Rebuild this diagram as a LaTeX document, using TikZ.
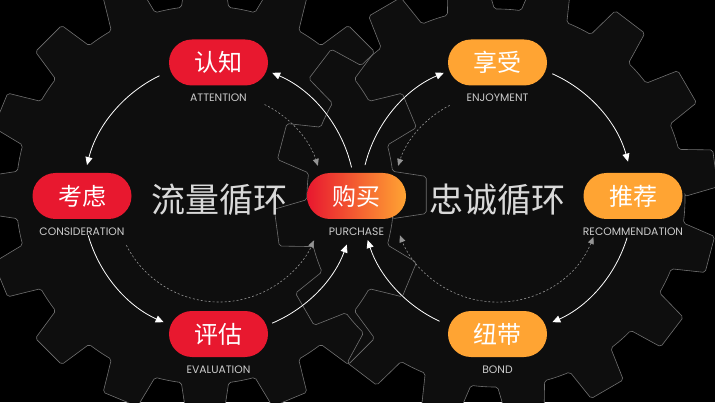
\documentclass[tikz,border=0pt]{standalone}
\usepackage{fontspec}
\newfontfamily\cjk{Noto Sans CJK SC}
\newfontfamily\lab{Poppins}
\usetikzlibrary{positioning,arrows.meta}
\definecolor{redc}{HTML}{E8182F}
\definecolor{orangec}{HTML}{FFA433}
\definecolor{gearfill}{HTML}{0E0E0E}
\definecolor{gearline}{HTML}{707070}

\begin{document}
\begin{tikzpicture}[
    x=1pt, y=1pt,
    pill/.style={rounded corners=23pt, minimum width=99pt, minimum height=46pt, inner sep=0pt,
        text=white, font=\cjk\fontsize{24}{24}\selectfont},
    tag/.style={inner sep=0pt, text=white!80!black, font=\lab\fontsize{10.8}{11}\selectfont},
    title/.style={inner sep=0pt, text=white!85!black, font=\cjk\fontsize{34}{34}\selectfont},
    arr/.style={-{Triangle[length=8pt,width=7pt]}, white, line width=0.8pt},
    darr/.style={-{Triangle[length=7pt,width=6pt]}, white!58!black, line width=0.6pt, dash pattern=on 2pt off 2pt},
    gear/.style={rounded corners=2pt}
]
\useasboundingbox[fill=black] (0,0) rectangle (715,402);

% gears: 16 teeth each
\foreach \gx/\gy/\off in {205/207/0,496/204/7.7}
  \fill[gearfill, gear, shift={(\gx,\gy)}] ({\off-7.2}:189)
    \foreach \a in {0,22.5,...,337.5} {
      -- ({\off+\a-4.8}:222) -- ({\off+\a+4.8}:222) -- ({\off+\a+7.2}:189)
      arc[start angle=\off+\a+7.2, end angle=\off+\a+15.3, radius=189]
    } -- cycle;
\foreach \gx/\gy/\off in {205/207/0,496/204/7.7}
  \draw[gearline, line width=0.6pt, gear, shift={(\gx,\gy)}] ({\off-7.2}:189)
    \foreach \a in {0,22.5,...,337.5} {
      -- ({\off+\a-4.8}:222) -- ({\off+\a+4.8}:222) -- ({\off+\a+7.2}:189)
      arc[start angle=\off+\a+7.2, end angle=\off+\a+15.3, radius=189]
    } -- cycle;

\coordinate (lc) at (219,204);
\coordinate (rc) at (497,204);

% left loop
\node[pill, fill=redc] (att) at (218.5,339.5) {认知};
\node[tag, below=8pt of att] (attL) {ATTENTION};
\node[pill, fill=redc] (con) at (82,206) {考虑};
\node[tag, below=8pt of con] (conL) {CONSIDERATION};
\node[pill, fill=redc] (eva) at (218.5,68) {评估};
\node[tag, below=8pt of eva] (evaL) {EVALUATION};
\node[title] (flow) at (219,202) {流量循环};

% purchase
\node[pill, left color=redc, right color=orangec] (pur) at (356.5,206) {购买};
\node[tag, below=8pt of pur] (purL) {PURCHASE};

% right loop
\node[pill, fill=orangec] (enj) at (497.5,339.5) {享受};
\node[tag, below=8pt of enj] (enjL) {ENJOYMENT};
\node[pill, fill=orangec] (rec) at (633,206) {推荐};
\node[tag, below=8pt of rec] (recL) {RECOMMENDATION};
\node[pill, fill=orangec] (bon) at (497.5,68) {纽带};
\node[tag, below=8pt of bon] (bonL) {BOND};
\node[title] (loyal) at (497,202) {忠诚循环};

% solid arcs
\draw[arr] ([shift={(116:136)}]lc) arc[start angle=116, end angle=166, radius=136];
\draw[arr] ([shift={(196:136)}]lc) arc[start angle=196, end angle=246, radius=136];
\draw[arr] ([shift={(293:136)}]lc) arc[start angle=293, end angle=340, radius=136];
\draw[arr] ([shift={(13:136)}]lc) arc[start angle=13, end angle=67, radius=136];
\draw[arr] ([shift={(166:136)}]rc) arc[start angle=166, end angle=113, radius=136];
\draw[arr] ([shift={(66:136)}]rc) arc[start angle=66, end angle=15.5, radius=136];
\draw[arr] ([shift={(-17:136)}]rc) arc[start angle=-17, end angle=-66, radius=136];
\draw[arr] ([shift={(245:136)}]rc) arc[start angle=245, end angle=198, radius=136];

% dashed arcs
\draw[darr] ([shift={(64:104)}]lc) arc[start angle=64, end angle=18, radius=104];
\draw[darr] ([shift={(207:104)}]lc) arc[start angle=207, end angle=336, radius=104];
\draw[darr] ([shift={(117:104)}]rc) arc[start angle=117, end angle=162, radius=104];
\draw[darr, {Triangle[length=7pt,width=6pt]}-{Triangle[length=7pt,width=6pt]}] ([shift={(-22:104)}]rc) arc[start angle=-22, end angle=-159, radius=104];

\end{tikzpicture}
\end{document}
